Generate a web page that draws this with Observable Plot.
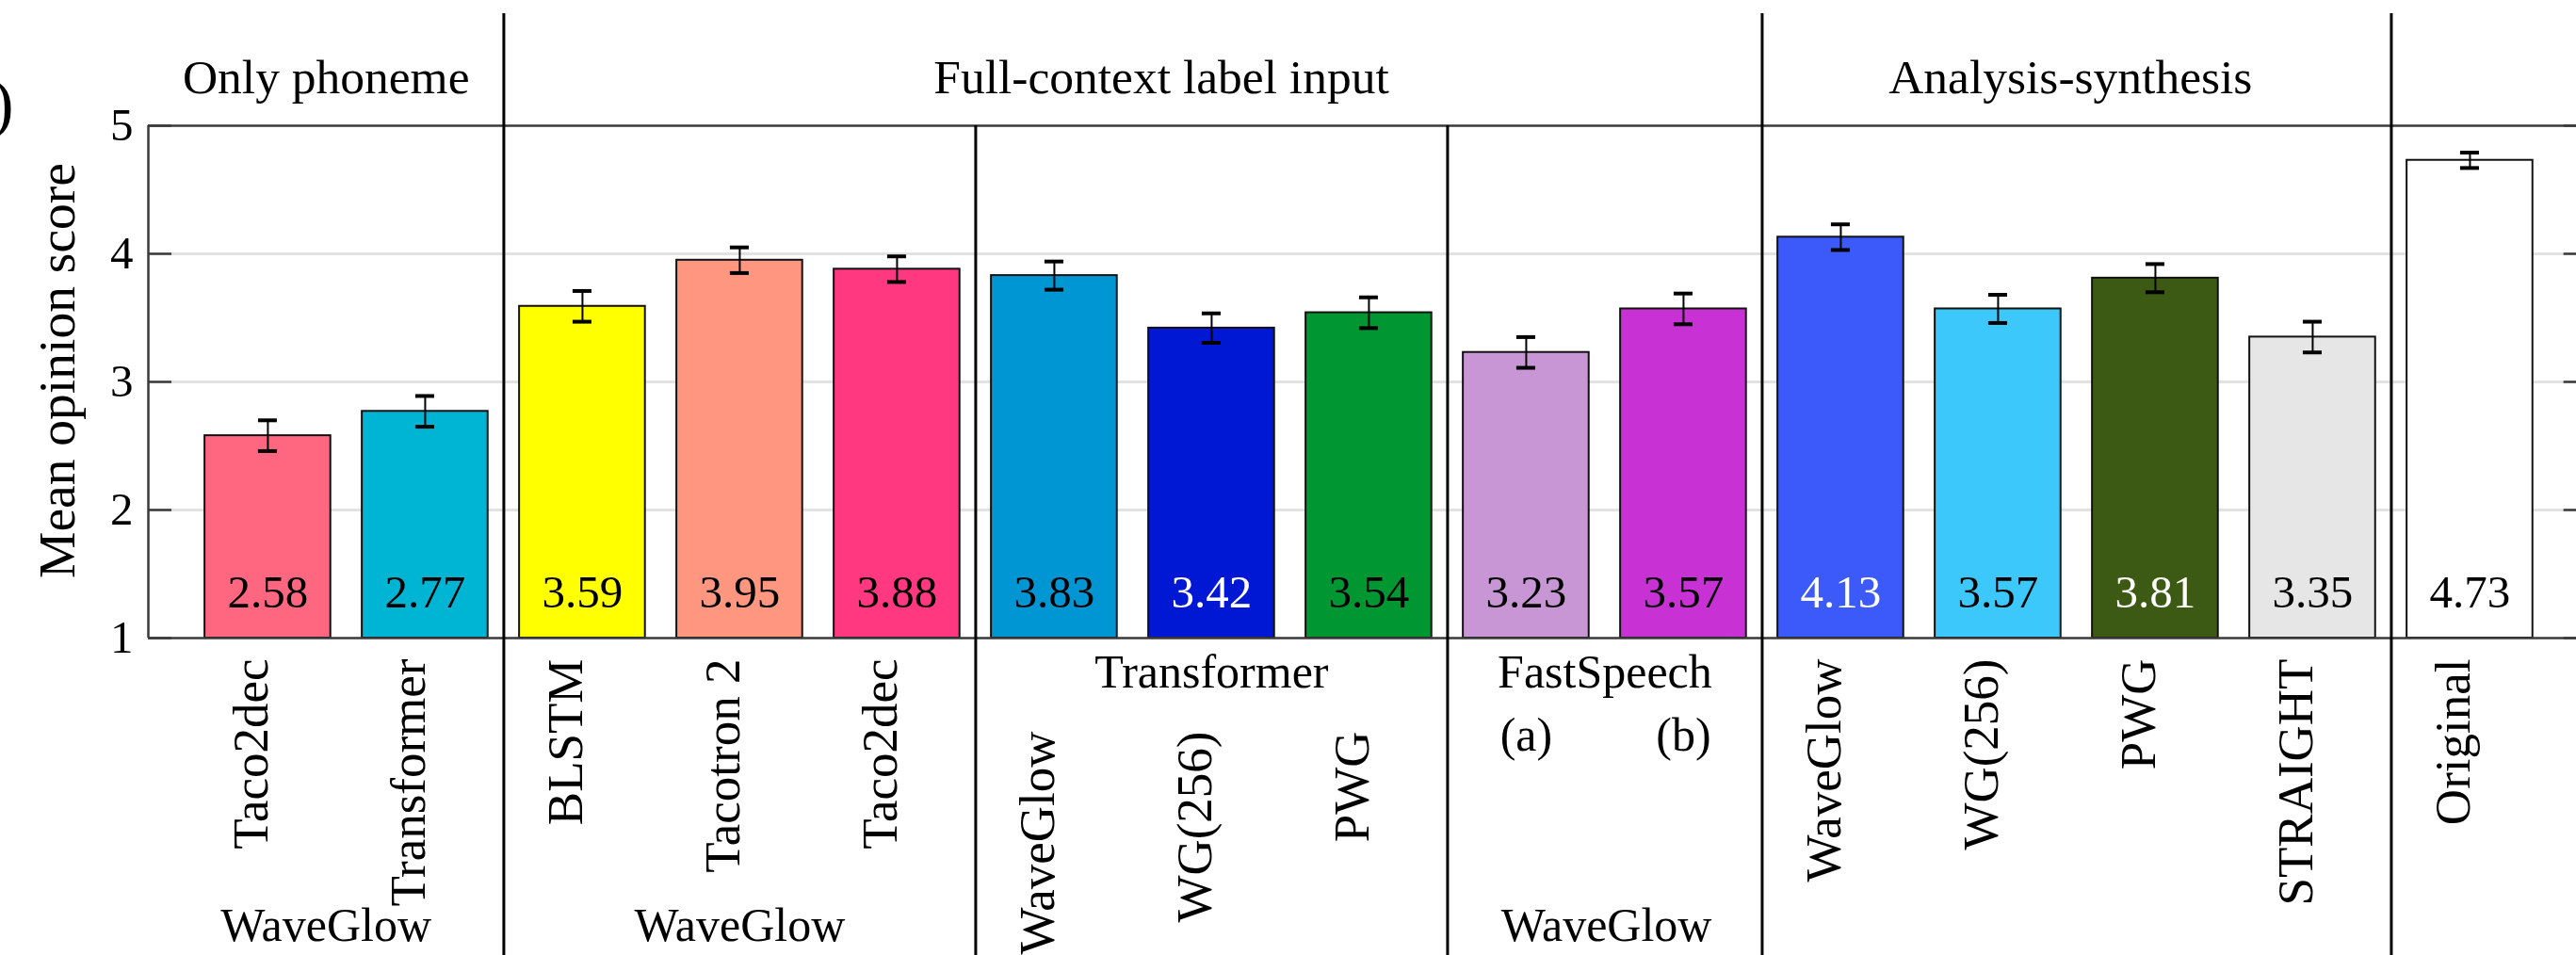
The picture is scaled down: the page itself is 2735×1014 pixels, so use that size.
<!DOCTYPE html>
<html>
<head>
<meta charset="utf-8">
<script src="https://cdn.jsdelivr.net/npm/d3@7"></script>
<script src="https://cdn.jsdelivr.net/npm/@observablehq/plot@0.6"></script>
<style>
  html, body { margin: 0; padding: 0; background: #fff; }
  svg { display: block; }
</style>
</head>
<body>
<div id="chart"></div>
<script>
// ---- data ----
const systems = ["Taco2dec", "Transformer", "BLSTM", "Tacotron 2", "Taco2dec",
                 "WaveGlow", "WG(256)", "PWG", "(a)", "(b)",
                 "WaveGlow", "WG(256)", "PWG", "STRAIGHT", "Original"];
const mos = [2.58, 2.77, 3.59, 3.95, 3.88, 3.83, 3.42, 3.54, 3.23, 3.57, 4.13, 3.57, 3.81, 3.35, 4.73];
const ciHalf = [0.12, 0.12, 0.12, 0.10, 0.10, 0.11, 0.115, 0.12, 0.12, 0.12, 0.10, 0.11, 0.11, 0.12, 0.06];
const yTicks = [1, 2, 3, 4, 5];
const topGroups = ["Only phoneme", "Full-context label input", "Analysis-synthesis", ""];
const topGroupSizes = [2, 8, 4, 1];
const subGroupSizes = [2, 3, 3, 2, 4, 1];
const modelGroups = ["Transformer", "FastSpeech"];
const vocoderLabels = ["WaveGlow", "WaveGlow", "WaveGlow"];
const yTitle = "Mean opinion score";

// ---- styles ----
const barColors = ["#ff6680", "#00b4d4", "#ffff00", "#ff9680", "#ff3880",
                   "#0096d4", "#0018d4", "#009632", "#c896d4", "#c832d4",
                   "#3c5afa", "#3cc8fa", "#3c5a14", "#e6e6e6", "#ffffff"];
const darkBars = new Set([6, 10, 12]);
const FONT = "Liberation Serif";

const rows = systems.map((s, i) => ({i, system: s, mos: mos[i], ci: ciHalf[i]}));
const cum = arr => arr.reduce((a, v) => (a.push((a.length ? a[a.length - 1] : 0) + v), a), []);
const topBounds = cum(topGroupSizes).slice(0, -1).map(v => v - 0.5);           // 1.5, 9.5, 13.5
const subBounds = cum(subGroupSizes).slice(0, -1).map(v => v - 0.5)
  .filter(v => !topBounds.includes(v));                                           // 4.5, 7.5

const xDomain = [-0.76, 14.677];
const yTop = 5.875, yBottom = -1.5;

// layout positions for group labels (index units)
const topLabelX = [0.37, 5.68, 11.46];
const modelLabelX = [6, 8.5];
const vocoderLabelX = [0.37, 3, 8.51];

const transformerBars = new Set([5, 6, 7]);
const fastBars = new Set([8, 9]);

const chart = Plot.plot({
  width: 2735,
  height: 1014,
  marginLeft: 157,
  marginRight: 0,
  marginTop: 133,
  marginBottom: 337,
  style: {fontFamily: FONT, background: "#fff", overflow: "visible"},
  x: {domain: xDomain, axis: null},
  y: {domain: [1, 5], axis: null},
  color: {type: "ordinal", domain: d3.range(systems.length), range: barColors},
  marks: [
    // grid
    Plot.ruleY(yTicks.slice(1, -1), {stroke: "#e2e2e2", strokeWidth: 3}),
    // bars
    Plot.rectY(rows, {x1: d => d.i - 0.4, x2: d => d.i + 0.4, y1: 1, y2: "mos",
      fill: "i", stroke: "#111", strokeWidth: 2}),
    // error bars
    Plot.ruleX(rows, {x: "i", y1: d => d.mos - d.ci, y2: d => d.mos + d.ci, stroke: "#000", strokeWidth: 2}),
    Plot.ruleY(rows, {y: d => d.mos + d.ci, x1: d => d.i - 0.06, x2: d => d.i + 0.06, stroke: "#000", strokeWidth: 4}),
    Plot.ruleY(rows, {y: d => d.mos - d.ci, x1: d => d.i - 0.06, x2: d => d.i + 0.06, stroke: "#000", strokeWidth: 4}),
    // frame
    Plot.ruleY([1, 5], {stroke: "#3a3a3a", strokeWidth: 2.5}),
    Plot.ruleX([xDomain[0]], {y1: 1, y2: 5, stroke: "#3a3a3a", strokeWidth: 2.5}),
    Plot.ruleY(yTicks, {x1: xDomain[0], x2: xDomain[0] + 0.15, stroke: "#3a3a3a", strokeWidth: 2.5}),
    Plot.ruleY(yTicks, {x1: xDomain[1] - 0.08, x2: xDomain[1], stroke: "#3a3a3a", strokeWidth: 2.5}),
    // separators
    Plot.ruleX(topBounds, {y1: yBottom, y2: yTop, stroke: "#000", strokeWidth: 3}),
    Plot.ruleX(subBounds, {y1: yBottom, y2: 5, stroke: "#000", strokeWidth: 3}),
    // y tick labels
    Plot.text(yTicks, {y: d => d, text: d => String(d), frameAnchor: "left", textAnchor: "end",
      dx: -16, fontSize: 49, fill: "#000"}),
    // y title
    Plot.text([yTitle], {text: d => d, frameAnchor: "left", textAnchor: "middle", rotate: -90,
      dx: -96, dy: -12, fontSize: 55.5, fill: "#000"}),
    // cropped fragment at the far left
    Plot.text([")"], {text: d => d, frameAnchor: "top-left", textAnchor: "end", dx: -143, dy: -50,
      fontSize: 70, fill: "#000"}),
    // value labels
    Plot.text(rows.filter(d => !darkBars.has(d.i)), {x: "i", text: d => d.mos.toFixed(2),
      frameAnchor: "bottom", dy: -33, fontSize: 49, fill: "#000"}),
    Plot.text(rows.filter(d => darkBars.has(d.i)), {x: "i", text: d => d.mos.toFixed(2),
      frameAnchor: "bottom", dy: -33, fontSize: 49, fill: "#fff"}),
    // top group labels
    Plot.text(topGroups.slice(0, 3), {x: (d, i) => topLabelX[i], text: d => d,
      frameAnchor: "top", dy: -71, fontSize: 51.5, fill: "#000"}),
    // rotated system labels
    Plot.text(rows.filter(d => !transformerBars.has(d.i) && !fastBars.has(d.i)), {x: "i", text: "system",
      rotate: -90, textAnchor: "end", frameAnchor: "bottom", dy: 22, fontSize: 53, fill: "#000"}),
    Plot.text(rows.filter(d => transformerBars.has(d.i)), {x: "i", text: "system",
      rotate: -90, textAnchor: "end", frameAnchor: "bottom", dy: 99, fontSize: 53, fill: "#000"}),
    Plot.text(rows.filter(d => fastBars.has(d.i)), {x: "i", text: "system",
      frameAnchor: "bottom", dy: 119, fontSize: 50, fill: "#000"}),
    // model group labels
    Plot.text(modelGroups, {x: (d, i) => modelLabelX[i], text: d => d,
      frameAnchor: "bottom", dy: 52, fontSize: 50, fill: "#000"}),
    // vocoder labels
    Plot.text(vocoderLabels, {x: (d, i) => vocoderLabelX[i], text: d => d,
      frameAnchor: "bottom", dy: 321, fontSize: 50, fill: "#000"})
  ]
});
document.getElementById("chart").appendChild(chart);
</script>
</body>
</html>
